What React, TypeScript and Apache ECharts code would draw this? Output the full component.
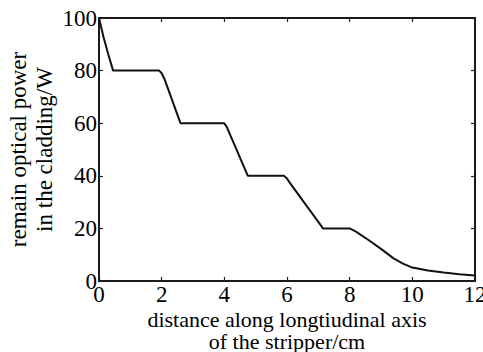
import React, { useEffect, useRef } from "react";
import * as echarts from "echarts";

const xValues = [0, 0.15, 0.3, 0.45, 1.92, 2.0, 2.1, 2.6, 4.0, 4.08, 4.75, 5.9, 6.0, 6.08, 7.15, 8.0, 8.2, 8.6, 9.0, 9.4, 9.7, 10.0, 10.5, 11.0, 11.5, 12.0];
const powerValues = [100, 92.5, 86, 80, 80, 79, 76.5, 60, 60, 58.5, 40, 40, 39, 37.5, 20, 20, 18.8, 15.6, 12.2, 8.6, 6.6, 5.1, 4.0, 3.2, 2.6, 2.1];
const xTicks = { min: 0, max: 12, interval: 2 };
const yTicks = { min: 0, max: 100, interval: 20 };
const xName = "distance along longtiudinal axis\nof the stripper/cm";
const yName = "remain optical power\nin the cladding/W";

const FONT = "'Liberation Serif', 'Times New Roman', serif";

export default function App() {
  const ref = useRef<HTMLDivElement>(null);
  useEffect(() => {
    if (!ref.current) return;
    const chart = echarts.init(ref.current, null, { renderer: "svg" });
    const mkTick = () => ({ show: true, inside: true, length: 4, lineStyle: { color: "#222", width: 1.2 } });
    chart.setOption({
      animation: false,
      backgroundColor: "#fff",
      grid: {
        left: 99,
        top: 18,
        right: 8,
        bottom: 71,
        containLabel: false,
        outerBoundsMode: "none",
        show: true,
        borderColor: "#1a1a1a",
        borderWidth: 2,
        backgroundColor: "rgba(0,0,0,0)",
      },
      xAxis: [
        {
          type: "value",
          show: true,
          min: xTicks.min,
          max: xTicks.max,
          interval: xTicks.interval,
          position: "bottom",
          axisLine: { show: true, onZero: false, lineStyle: { color: "#1a1a1a", width: 2 } },
          axisTick: mkTick(),
          splitLine: { show: false },
          axisLabel: { color: "#000", fontFamily: FONT, fontSize: 23, margin: 2, lineHeight: 23 },
          name: xName,
          nameLocation: "middle",
          nameGap: 27,
          nameMoveOverlap: false,
          nameTextStyle: { color: "#000", fontFamily: FONT, fontSize: 22, lineHeight: 22 },
        },
        {
          type: "value",
          show: true,
          gridIndex: 0,
          min: xTicks.min,
          max: xTicks.max,
          interval: xTicks.interval,
          position: "top",
          axisLine: { show: true, onZero: false, lineStyle: { color: "#1a1a1a", width: 2 } },
          axisTick: mkTick(),
          splitLine: { show: false },
          axisLabel: { show: false },
        },
      ],
      yAxis: [
        {
          type: "value",
          show: true,
          min: yTicks.min,
          max: yTicks.max,
          interval: yTicks.interval,
          position: "left",
          axisLine: { show: true, onZero: false, lineStyle: { color: "#1a1a1a", width: 2 } },
          axisTick: mkTick(),
          splitLine: { show: false },
          axisLabel: { color: "#000", fontFamily: FONT, fontSize: 23, margin: 2 },
          name: yName,
          nameLocation: "middle",
          nameRotate: 90,
          nameGap: 42,
          nameMoveOverlap: false,
          nameTextStyle: { color: "#000", fontFamily: FONT, fontSize: 23, lineHeight: 26 },
        },
        {
          type: "value",
          show: true,
          gridIndex: 0,
          min: yTicks.min,
          max: yTicks.max,
          interval: yTicks.interval,
          position: "right",
          axisLine: { show: true, onZero: false, lineStyle: { color: "#1a1a1a", width: 2 } },
          axisTick: mkTick(),
          splitLine: { show: false },
          axisLabel: { show: false },
        },
      ],
      series: [
        {
          type: "line",
          data: xValues.map((x, i) => [x, powerValues[i]]),
          showSymbol: false,
          smooth: false,
          lineStyle: { color: "#111", width: 2 },
        },
        {
          type: "line",
          xAxisIndex: 1,
          yAxisIndex: 1,
          data: [],
          showSymbol: false,
        },
      ],
    });
    return () => chart.dispose();
  }, []);
  return <div ref={ref} style={{ width: 483, height: 352, position: "absolute", left: 0, top: 0 }} />;
}
